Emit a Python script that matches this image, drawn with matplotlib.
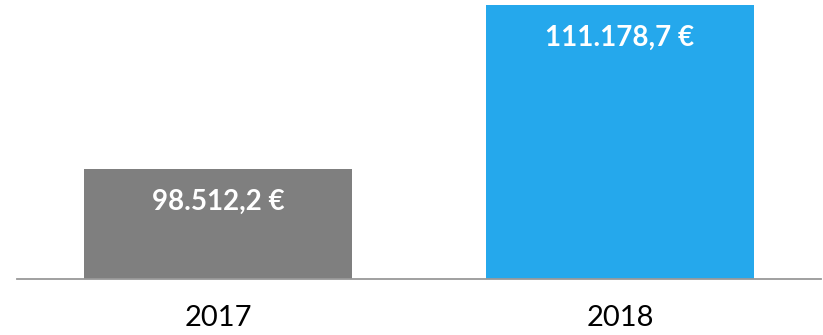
import matplotlib.pyplot as plt

years = ['2017', '2018']
values = [98512.2, 111178.7]
colors = ['#7f7f7f', '#25a8ec']


def euro(v):
    # 98512.2 -> "98.512,2 €"
    s = f"{v:,.1f}".replace(',', 'X').replace('.', ',').replace('X', '.')
    return s + ' €'


fig = plt.figure(figsize=(8.23, 3.35), dpi=100)
ax = fig.add_axes([17 / 823, 56 / 335, 804 / 823, 279 / 335])

x = list(range(len(years)))
bars = ax.bar(x, values, width=0.667, color=colors, bottom=0)

ax.set_xlim(-0.5, 1.5)
ax.set_ylim(90000, 111565)

# value labels inside the top of each bar
for xi, v in zip(x, values):
    ax.annotate(euro(v), xy=(xi, v), xytext=(0, -24), textcoords='offset points',
                ha='center', va='center', color='white', fontsize=20,
                fontweight='bold', family='Lato')

ax.set_xticks(x)
ax.set_xticklabels(years, family='Lato', fontsize=21, color='black')
ax.tick_params(axis='x', length=0, pad=19)
ax.set_yticks([])

for side in ['top', 'left', 'right']:
    ax.spines[side].set_visible(False)
ax.spines['bottom'].set_color('#999999')
ax.spines['bottom'].set_linewidth(1.3)
ax.spines['bottom'].set_zorder(3)

fig.savefig('out.png', dpi=100)
